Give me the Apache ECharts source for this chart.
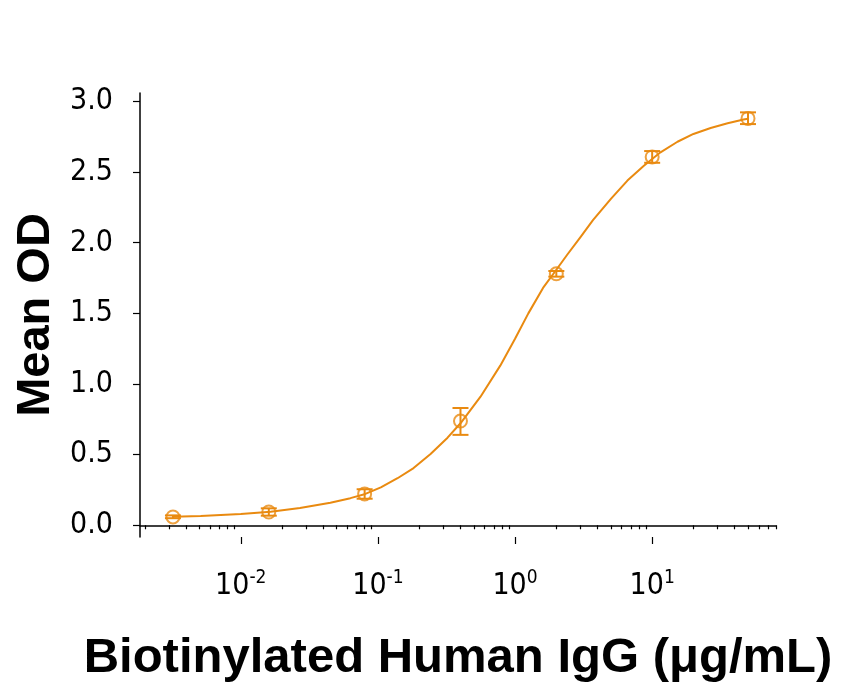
<!DOCTYPE html>
<html>
<head>
<meta charset="utf-8">
<script src="https://cdn.jsdelivr.net/npm/echarts@6/dist/echarts.min.js"></script>
<style>
html,body{margin:0;padding:0;background:#fff;}
#c{width:841px;height:690px;}
</style>
</head>
<body>
<div id="c"></div>
<script>
// Measured points (concentration µg/mL, mean OD, error low, error high)
var concentrations = [0.0032, 0.016, 0.08, 0.4, 2, 10, 50];
var meanOD = [0.059, 0.094, 0.222, 0.738, 1.78, 2.607, 2.88];
var errLow = [0.05, 0.068, 0.188, 0.64, 1.76, 2.566, 2.84];
var errHigh = [0.07, 0.12, 0.255, 0.83, 1.80, 2.649, 2.923];

// Fitted curve
var curveX = [0.0032, 0.0051, 0.01, 0.0165, 0.027, 0.045, 0.063, 0.081, 0.105, 0.139, 0.182, 0.242, 0.322, 0.40,
              0.56, 0.78, 1.0, 1.25, 1.6, 1.97, 2.4, 3.0, 3.7, 5.0, 6.6, 8.7, 11.5, 15.3, 20, 26.7, 35.5, 46.4, 50];
var curveY = [0.061, 0.066, 0.080, 0.096, 0.122, 0.160, 0.192, 0.222, 0.268, 0.333, 0.405, 0.505, 0.620, 0.722,
              0.910, 1.130, 1.320, 1.500, 1.680, 1.800, 1.915, 2.040, 2.160, 2.310, 2.440, 2.545, 2.640, 2.715, 2.770, 2.812, 2.846, 2.872, 2.878];

// Axis ticks
var yTicks = [0, 0.5, 1.0, 1.5, 2.0, 2.5, 3.0];
var xMajorTicks = [0.01, 0.1, 1, 10];
var xMinorTicks = [0.002,0.003,0.004,0.005,0.006,0.007,0.008,0.009,
                   0.02,0.03,0.04,0.05,0.06,0.07,0.08,0.09,
                   0.2,0.3,0.4,0.5,0.6,0.7,0.8,0.9,
                   2,3,4,5,6,7,8,9,
                   20,30,40,50,60,70,80];

var ORANGE = '#E98A10';
var NARROW = "'Liberation Sans Narrow', 'DejaVu Sans Condensed', 'Noto Sans', sans-serif";
var BOLD = "'Liberation Sans', Arial, sans-serif";

var pts = concentrations.map(function (c, i) { return [c, meanOD[i]]; });
var errs = concentrations.map(function (c, i) { return [c, errLow[i], errHigh[i]]; });
var curve = curveX.map(function (c, i) { return [c, curveY[i]]; });

var XMIN = 0.00184, XMAX = 80;

var chart = echarts.init(document.getElementById('c'), null, {renderer: 'canvas'});
chart.setOption({
  animation: false,
  backgroundColor: '#fff',
  grid: {left: 140, right: 65, top: 93, bottom: 153, containLabel: false},
  xAxis: [
    {
      type: 'log', min: XMIN, max: XMAX, position: 'bottom',
      axisLine: {show: true, lineStyle: {color: '#000', width: 1.5}},
      axisTick: {show: true, inside: false, length: 4, lineStyle: {color: '#000', width: 1.2}, customValues: xMinorTicks},
      axisLabel: {show: false},
      splitLine: {show: false},
      name: 'Biotinylated Human IgG (\u03bcg/mL)',
      nameLocation: 'middle', nameGap: 97,
      nameTextStyle: {fontFamily: BOLD, fontWeight: 'bold', fontSize: 49, color: '#000'}
    },
    {
      type: 'log', min: XMIN, max: XMAX, position: 'bottom',
      axisLine: {show: false},
      axisTick: {show: true, inside: false, length: 7, lineStyle: {color: '#000', width: 1.2}, customValues: xMajorTicks},
      axisLabel: {
        show: true, margin: 32, customValues: xMajorTicks,
        formatter: function (v) {
          var e = Math.round(Math.log(v) / Math.LN10);
          return '{b|10}{s|' + e + '}';
        },
        rich: {
          b: {fontFamily: NARROW, fontSize: 30, color: '#000', lineHeight: 32, verticalAlign: 'bottom'},
          s: {fontFamily: NARROW, fontSize: 19, color: '#000', lineHeight: 32, verticalAlign: 'top'}
        }
      },
      splitLine: {show: false}
    }
  ],
  yAxis: {
    type: 'value', min: -0.083, max: 3.06,
    axisLine: {show: true, lineStyle: {color: '#000', width: 1.5}},
    axisTick: {show: true, inside: false, length: 7, lineStyle: {color: '#000', width: 1.2}, customValues: yTicks},
    axisLabel: {
      show: true, margin: 27, customValues: yTicks,
      formatter: function (v) { return v.toFixed(1); },
      fontFamily: NARROW, fontSize: 30, color: '#000'
    },
    splitLine: {show: false},
    name: 'Mean OD', nameLocation: 'middle', nameGap: 80, nameRotate: 90,
    nameTextStyle: {fontFamily: BOLD, fontWeight: 'bold', fontSize: 47, color: '#000'}
  },
  series: [
    {
      type: 'line', data: curve, xAxisIndex: 0, smooth: false, showSymbol: false,
      lineStyle: {color: ORANGE, width: 2, join: 'round'}, z: 2
    },
    {
      type: 'custom', data: errs, xAxisIndex: 0, z: 3,
      renderItem: function (params, api) {
        var lo = api.coord([api.value(0), api.value(1)]);
        var hi = api.coord([api.value(0), api.value(2)]);
        var w = 8;
        var st = {stroke: ORANGE, lineWidth: 2, fill: null};
        return {
          type: 'group',
          children: [
            {type: 'line', shape: {x1: lo[0], y1: lo[1], x2: hi[0], y2: hi[1]}, style: st},
            {type: 'line', shape: {x1: lo[0] - w, y1: lo[1], x2: lo[0] + w, y2: lo[1]}, style: st},
            {type: 'line', shape: {x1: hi[0] - w, y1: hi[1], x2: hi[0] + w, y2: hi[1]}, style: st}
          ]
        };
      }
    },
    {
      type: 'scatter', data: pts, xAxisIndex: 0, symbol: 'circle', symbolSize: 13, z: 4,
      itemStyle: {color: 'rgba(255,255,255,0)', borderColor: ORANGE, borderWidth: 2}
    }
  ]
});
</script>
</body>
</html>
